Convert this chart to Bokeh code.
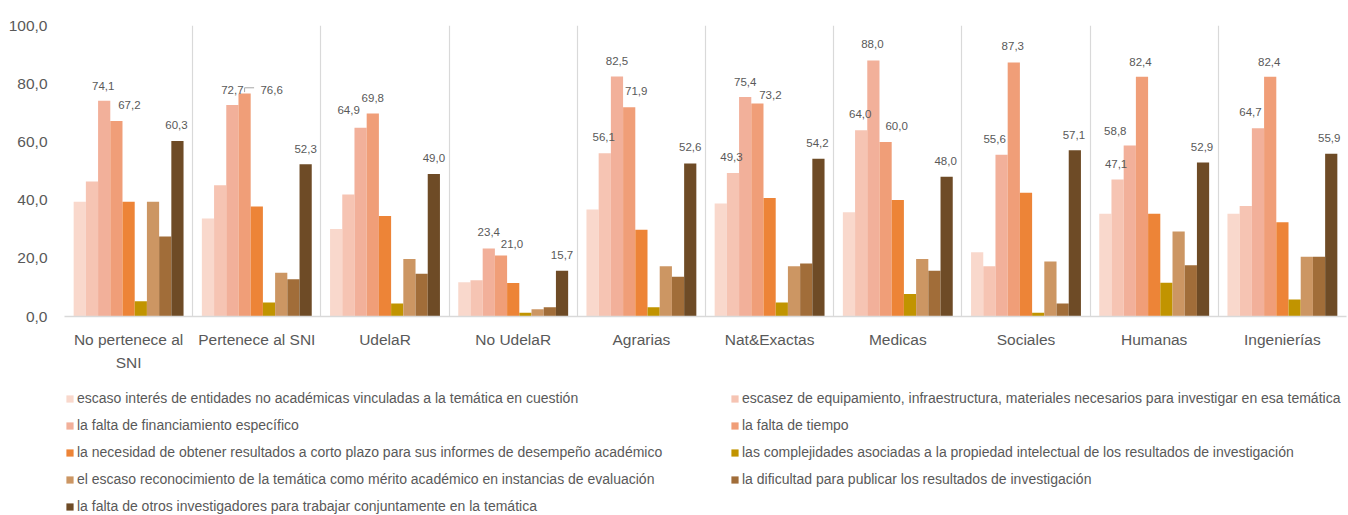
import numpy as np
from bokeh.plotting import figure
from bokeh.layouts import column
from bokeh.models import Range1d, FixedTicker, ColumnDataSource, Legend, LegendItem
from bokeh.embed import file_html
from bokeh.resources import INLINE
from bokeh.core.properties import value

# ---------------- data ----------------
categories = ["No pertenece al\nSNI", "Pertenece al SNI", "UdelaR", "No UdelaR", "Agrarias",
              "Nat&Exactas", "Medicas", "Sociales", "Humanas", "Ingenierías"]

series_names = [
    "escaso interés de entidades no académicas vinculadas a la temática en cuestión",
    "escasez de equipamiento, infraestructura, materiales necesarios para investigar en esa temática",
    "la falta de financiamiento específico",
    "la falta de tiempo",
    "la necesidad de obtener resultados a corto plazo para sus informes de desempeño académico",
    "las complejidades asociadas a la propiedad intelectual de los resultados de investigación",
    "el escaso reconocimiento de la temática como mérito académico en instancias de evaluación",
    "la dificultad para publicar los resultados de investigación",
    "la falta de otros investigadores para trabajar conjuntamente en la temática",
]

escaso_interes = [39.4, 33.7, 30.1, 11.8, 36.8, 38.8, 35.8, 22.1, 35.3, 35.3]
escasez_equipamiento = [46.4, 45.1, 41.9, 12.5, 56.1, 49.3, 64.0, 17.3, 47.1, 38.0]
falta_financiamiento = [74.1, 72.7, 64.9, 23.4, 82.5, 75.4, 88.0, 55.6, 58.8, 64.7]
falta_tiempo = [67.2, 76.6, 69.8, 21.0, 71.9, 73.2, 60.0, 87.3, 82.4, 82.4]
necesidad_resultados = [39.4, 37.8, 34.5, 11.5, 29.8, 40.7, 40.0, 42.5, 35.3, 32.4]
propiedad_intelectual = [5.2, 4.8, 4.5, 1.3, 3.2, 4.8, 7.7, 1.3, 11.6, 5.8]
escaso_reconocimiento = [39.4, 15.0, 19.8, 2.5, 17.3, 17.3, 19.8, 18.9, 29.2, 20.5]
dificultad_publicar = [27.5, 12.8, 14.7, 3.2, 13.7, 18.2, 15.7, 4.5, 17.6, 20.5]
falta_investigadores = [60.3, 52.3, 49.0, 15.7, 52.6, 54.2, 48.0, 57.1, 52.9, 55.9]

series_values = [escaso_interes, escasez_equipamiento, falta_financiamiento, falta_tiempo,
                 necesidad_resultados, propiedad_intelectual, escaso_reconocimiento,
                 dificultad_publicar, falta_investigadores]

y_ticks = [0, 20, 40, 60, 80, 100]
y_tick_labels = ["0,0", "20,0", "40,0", "60,0", "80,0", "100,0"]

# which series carry a data label in each category
labelled_series = [[2, 3, 8], [2, 3, 8], [2, 3, 8], [2, 3, 8], [1, 2, 3, 8],
                   [1, 2, 3, 8], [1, 2, 3, 8], [2, 3, 8], [1, 2, 3, 8], [2, 3, 8]]

# ---------------- style ----------------
colors = ["#F9D8CC", "#F6C4B3", "#F2B09A", "#F09E78", "#ED8437",
          "#C19400", "#CC9663", "#A16D39", "#6E4B26"]
# label pixel offsets (dx, dy above bar top), per category, in the order of labelled_series
label_offsets = [
    [(-1, 15), (13, 16), (-1, 16)],
    [(0, 15), (27, 4), (0, 15.5)],
    [(-12, 18), (0, 15.5), (0, 15.5)],
    [(0, 16), (11, 11.5), (0, 16)],
    [(-1, 16), (0, 15), (7, 16), (0, 16)],
    [(-1.5, 16), (0, 15.5), (13, 8), (-1, 15.5)],
    [(-1, 16.5), (-1, 16.5), (11, 15.5), (-1, 16)],
    [(-7, 16), (-1, 16), (-1, 15.5)],
    [(-1.5, 15.5), (-14.5, 14), (-1.5, 15), (-1, 16)],
    [(-7.5, 16), (-1, 15), (-2, 15.5)],
]

FONT = "Liberation Sans"
TXT = "#595959"
W = 1348
H1 = 378
H2 = 136
BL, BR, BT = 64, 2, 25
FRAME_BOTTOM = 316
BB = H1 - FRAME_BOTTOM
frame_w = W - BL - BR
frame_h = FRAME_BOTTOM - BT

n_cat = len(categories)
n_ser = len(series_values)
bw = 1.0 / (n_ser + 1.5)  # 150% gap width

p = figure(width=W, height=H1, x_range=Range1d(-0.5, n_cat - 0.5), y_range=Range1d(0, 100),
           output_backend="svg", toolbar_location=None,
           min_border_left=BL, min_border_right=BR, min_border_top=BT, min_border_bottom=BB)
p.outline_line_color = None
p.background_fill_color = "white"
p.border_fill_color = "white"

cat_idx = np.arange(n_cat)
for j, vals in enumerate(series_values):
    src = ColumnDataSource(dict(x=cat_idx + (j - (n_ser - 1) / 2) * bw, top=vals))
    p.vbar(x="x", top="top", width=bw, bottom=0, source=src,
           fill_color=colors[j], line_color=None)

# data labels
lx, ly, lt, ldx, ldy = [], [], [], [], []
for i, sers in enumerate(labelled_series):
    for k, j in enumerate(sers):
        v = series_values[j][i]
        lx.append(i + (j - (n_ser - 1) / 2) * bw)
        ly.append(v)
        lt.append(f"{v:.1f}".replace(".", ","))
        ldx.append(label_offsets[i][k][0])
        ldy.append(-label_offsets[i][k][1])
p.text(x="x", y="y", text="t", x_offset="dx", y_offset="dy",
       source=ColumnDataSource(dict(x=lx, y=ly, t=lt, dx=ldx, dy=ldy)),
       text_font=value(FONT), text_font_size="11.5px", text_color=TXT,
       text_align="center", text_baseline="middle")

# leader line for the "Pertenece al SNI" / falta de tiempo label
xpx = n_cat / frame_w
ypx = 100.0 / frame_h
ci, sj = 1, 3
x0 = ci + (sj - (n_ser - 1) / 2) * bw
v0 = series_values[sj][ci]
p.line(x=[x0, x0, x0 + 9.5 * xpx], y=[v0 + 1.5 * ypx, v0 + 5.8 * ypx, v0 + 5.8 * ypx],
       line_color="#a6a6a6", line_width=1)

# axes
p.yaxis.ticker = FixedTicker(ticks=y_ticks)
p.yaxis.major_label_overrides = {t: l for t, l in zip(y_ticks, y_tick_labels)}
p.yaxis.axis_line_color = None
p.yaxis.major_tick_line_color = None
p.yaxis.minor_tick_line_color = None
p.yaxis.major_label_standoff = 11
p.yaxis.major_label_text_font = FONT
p.yaxis.major_label_text_font_size = "15.5px"
p.yaxis.major_label_text_color = TXT

p.xaxis.ticker = FixedTicker(ticks=list(cat_idx))
p.xaxis.major_label_overrides = {int(i): c for i, c in zip(cat_idx, categories)}
p.xaxis.axis_line_color = "#d9d9d9"
p.xaxis.axis_line_width = 1.5
p.xaxis.major_tick_line_color = None
p.xaxis.minor_tick_line_color = None
p.xaxis.major_label_standoff = 8
p.xaxis.major_label_text_font = FONT
p.xaxis.major_label_text_font_size = "15.5px"
p.xaxis.major_label_text_color = TXT
p.xaxis.major_label_text_line_height = 1.4

p.xgrid.ticker = FixedTicker(ticks=list(np.arange(n_cat + 1) - 0.5))
p.xgrid.grid_line_color = "#d9d9d9"
p.xgrid.grid_line_width = 1.2
p.ygrid.visible = False

# ---------------- legend panel ----------------
q = figure(width=W, height=H2, x_range=Range1d(0, 1), y_range=Range1d(0, 1),
           output_backend="svg", toolbar_location=None,
           x_axis_location=None, y_axis_location=None,
           min_border_left=0, min_border_right=0, min_border_top=0, min_border_bottom=0)
q.outline_line_color = None
q.grid.visible = False
q.background_fill_color = "white"
q.border_fill_color = "white"

# legend swatches: renderers kept outside the visible range (they only feed the legend)
swatches = []
for j in range(n_ser):
    swatches.append(q.vbar(x=[-5], top=[-5], bottom=[-6], width=0.1,
                           fill_color=colors[j], line_color=None))

ITEM_H, GAP, TOP = 16, 11, 12

def make_legend(idxs, x):
    n = len(idxs)
    height = n * ITEM_H + (n - 1) * GAP
    vy = H2 - (TOP + height)
    return Legend(items=[LegendItem(label=series_names[j], renderers=[swatches[j]]) for j in idxs],
                  location=(x, vy), orientation="vertical",
                  glyph_width=9, glyph_height=9, label_standoff=3,
                  label_height=ITEM_H, spacing=GAP, padding=0, margin=0,
                  border_line_alpha=0, background_fill_alpha=0,
                  label_text_font=FONT, label_text_font_size="14px",
                  label_text_color=TXT)

q.add_layout(make_legend([0, 2, 4, 6, 8], 1), "center")
q.add_layout(make_legend([1, 3, 5, 7], 666), "center")

layout = column(p, q, spacing=0)
open("out.html", "w").write(file_html(layout, INLINE))
